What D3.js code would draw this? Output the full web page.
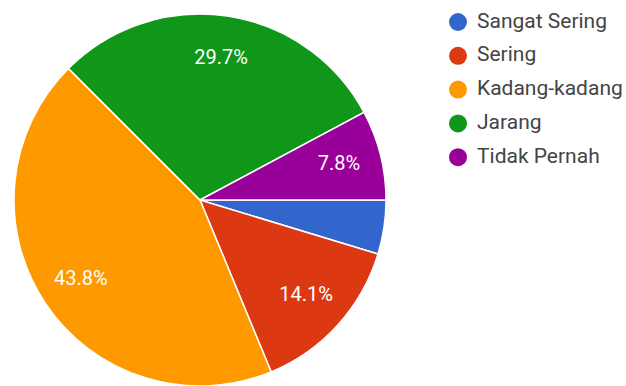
<!DOCTYPE html>
<html>
<head>
<meta charset="utf-8">
<script src="https://cdn.jsdelivr.net/npm/d3@7"></script>
<style>
  body { margin: 0; background: #fff; }
</style>
</head>
<body>
<div id="chart"></div>
<script>
var categories = ["Sangat Sering", "Sering", "Kadang-kadang", "Jarang", "Tidak Pernah"];
var counts = [3, 9, 28, 19, 5];
var colors = ["#3366cc", "#dc3912", "#ff9900", "#109618", "#990099"];

var width = 626, height = 386;
var cx = 200, cy = 200, radius = 186;

var svg = d3.select("#chart")
  .append("svg")
    .attr("width", width)
    .attr("height", height);

var g = svg.append("g")
  .attr("transform", "translate(" + cx + "," + cy + ")");

var color = d3.scaleOrdinal().domain(categories).range(colors);

var total = d3.sum(counts);
var data = categories.map(function (c, i) { return {name: c, value: counts[i]}; });

var pie = d3.pie()
  .sort(null)
  .value(function (d) { return d.value; })
  .startAngle(Math.PI / 2)
  .endAngle(Math.PI / 2 + 2 * Math.PI);

var arc = d3.arc().innerRadius(0).outerRadius(radius);
var labelArc = d3.arc().innerRadius(radius * 0.77).outerRadius(radius * 0.77);

var arcs = pie(data);

g.selectAll("path")
  .data(arcs)
  .enter()
  .append("path")
    .attr("d", arc)
    .attr("fill", function (d) { return color(d.data.name); })
    .attr("stroke", "#fff")
    .attr("stroke-width", 1.5);

// percentage labels (skip tiny slices)
g.selectAll("text.pct")
  .data(arcs.filter(function (d) { return d.data.value / total > 0.05; }))
  .enter()
  .append("text")
    .attr("class", "pct")
    .attr("transform", function (d) { return "translate(" + labelArc.centroid(d) + ")"; })
    .attr("text-anchor", "middle")
    .attr("dominant-baseline", "middle")
    .style("fill", "#fff")
    .style("font-family", "Roboto, sans-serif")
    .style("font-size", "20px")
    .text(function (d) { return (d.data.value / total * 100).toFixed(1) + "%"; });

// legend
var legend = svg.append("g")
  .attr("transform", "translate(458,22)");

var item = legend.selectAll("g")
  .data(categories)
  .enter()
  .append("g")
    .attr("transform", function (d, i) { return "translate(0," + (i * 33.8) + ")"; });

item.append("circle")
  .attr("r", 9)
  .attr("fill", function (d) { return color(d); });

item.append("text")
  .attr("x", 19)
  .attr("dominant-baseline", "middle")
  .style("fill", "#444")
  .style("font-family", "Roboto, sans-serif")
  .style("font-size", "21px")
  .text(function (d) { return d; });
</script>
</body>
</html>
